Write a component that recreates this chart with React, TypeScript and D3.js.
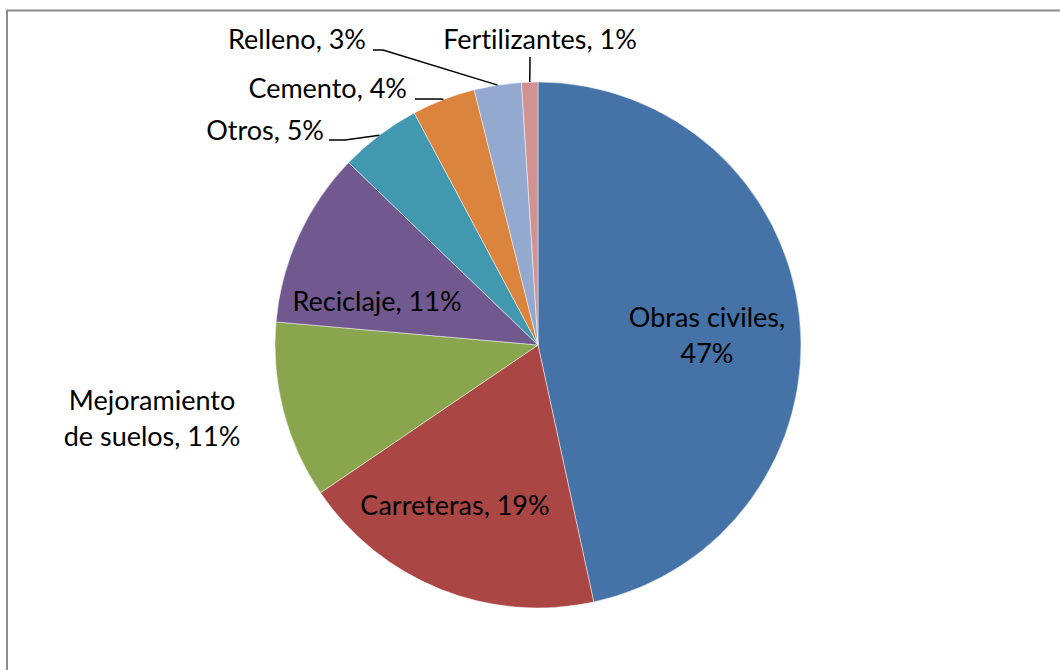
import React from "react";
import * as d3 from "d3";

// slice order: clockwise from 12 o'clock
const categories = [
  "Obras civiles",
  "Carreteras",
  "Mejoramiento de suelos",
  "Reciclaje",
  "Otros",
  "Cemento",
  "Relleno",
  "Fertilizantes",
];
const values = [46.6, 18.9, 10.9, 10.8, 5.0, 3.9, 2.9, 1.0];
const labelTexts = [
  ["Obras civiles,", "47%"],
  ["Carreteras, 19%"],
  ["Mejoramiento", "de suelos, 11%"],
  ["Reciclaje, 11%"],
  ["Otros, 5%"],
  ["Cemento, 4%"],
  ["Relleno, 3%"],
  ["Fertilizantes, 1%"],
];
const colors = ["#4572A7", "#AA4643", "#89A54E", "#71588F", "#4198AF", "#DB843D", "#93A9CF", "#D19392"];

const W = 1060;
const H = 670;
const cx = 538;
const cy = 345;
const radius = 263;

// label layout: text anchor point, alignment, and optional leader (line start + elbow)
const labelLayout: { x: number; y: number; anchor: string; leader?: [number, number][] }[] = [
  { x: 707, y: 327, anchor: "middle" },
  { x: 455, y: 515, anchor: "middle" },
  { x: 152, y: 410, anchor: "middle" },
  { x: 377, y: 311, anchor: "middle" },
  { x: 324, y: 140, anchor: "end", leader: [[329, 140], [345, 140]] },
  { x: 407, y: 98, anchor: "end", leader: [[415, 99], [441, 99]] },
  { x: 366, y: 49, anchor: "end", leader: [[373, 50], [383, 50]] },
  { x: 540, y: 49, anchor: "middle", leader: [[530, 57], [530, 57]] },
];

const fontFamily = "Lato, 'Open Sans', sans-serif";
const fontSize = 27;
const lineGap = 36;

export default function App() {
  const pie = d3.pie<number>().sort(null).value((d) => d);
  const arcs = pie(values);
  const arc = d3.arc<d3.PieArcDatum<number>>().innerRadius(0).outerRadius(radius);

  const edgePoint = (a: d3.PieArcDatum<number>): [number, number] => {
    const mid = (a.startAngle + a.endAngle) / 2;
    return [cx + radius * Math.sin(mid), cy - radius * Math.cos(mid)];
  };

  const line = d3.line();

  return (
    <svg width={W} height={H} style={{ position: "absolute", left: 0, top: 0, display: "block" }}>
      <rect x={0} y={0} width={W} height={H} fill="#fff" />
      <rect x={7} y={10.5} width={W + 20} height={H + 20} fill="none" stroke="#8c8c8c" strokeWidth={2} />
      <g transform={`translate(${cx},${cy})`}>
        {arcs.map((a, i) => (
          <path key={categories[i]} d={arc(a) || ""} fill={colors[i]} stroke="#ffffff" strokeOpacity={0.6} strokeWidth={0.8} />
        ))}
      </g>
      {arcs.map((a, i) => {
        const lay = labelLayout[i];
        if (!lay.leader) return null;
        const pts: [number, number][] = [...lay.leader, edgePoint(a)];
        return <path key={"l" + i} d={line(pts) || ""} fill="none" stroke="#000" strokeWidth={1.5} />;
      })}
      {labelTexts.map((lines, i) => {
        const lay = labelLayout[i];
        return (
          <text
            key={"t" + i}
            x={lay.x}
            y={lay.y}
            textAnchor={lay.anchor}
            fontFamily={fontFamily}
            fontSize={fontSize}
            fill="#000"
            style={{ fontVariantLigatures: "none" }}
          >
            {lines.map((s, j) => (
              <tspan key={j} x={lay.x} dy={j === 0 ? 0 : lineGap}>
                {s}
              </tspan>
            ))}
          </text>
        );
      })}
    </svg>
  );
}
